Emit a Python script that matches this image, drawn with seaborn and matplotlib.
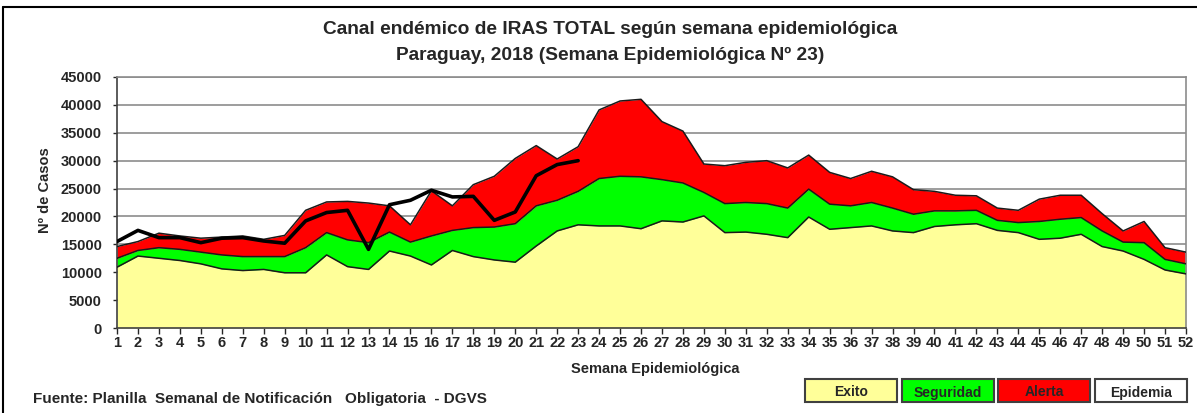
import numpy as np
import pandas as pd
import seaborn as sns
import matplotlib
matplotlib.use('Agg')
import matplotlib.pyplot as plt
from matplotlib.patches import Rectangle
from matplotlib.lines import Line2D

# semanas epidemiologicas
semanas = list(range(1, 53))

# limites del canal endemico (valores acumulados)
exito = [10900, 12900, 12500, 12100, 11500, 10600, 10300, 10500, 9900, 9900,
         13100, 11000, 10500, 13800, 12900, 11300, 13900, 12800, 12200, 11800,
         14700, 17400, 18500, 18300, 18300, 17800, 19200, 19000, 20100, 17100,
         17200, 16800, 16200, 19900, 17700, 18000, 18300, 17400, 17100, 18200,
         18500, 18700, 17500, 17100, 15900, 16100, 16800, 14600, 13800, 12300,
         10400, 9700]
seguridad = [12500, 13900, 14400, 14100, 13600, 13100, 12800, 12800, 12800, 14400,
             17100, 15800, 15300, 17200, 15400, 16500, 17500, 18000, 18100, 18700,
             21900, 22900, 24500, 26800, 27200, 27100, 26600, 26000, 24300, 22300,
             22500, 22300, 21500, 24900, 22200, 21900, 22500, 21500, 20400, 21000,
             21000, 21100, 19300, 18900, 19100, 19500, 19800, 17400, 15400, 15300,
             12300, 11500]
alerta = [14600, 15500, 17000, 16500, 16100, 16300, 16500, 15900, 16600, 21100,
          22600, 22700, 22400, 21900, 18500, 24600, 21900, 25700, 27200, 30400,
          32700, 30300, 32500, 39100, 40700, 41000, 37000, 35300, 29400, 29100,
          29700, 30000, 28700, 31000, 27900, 26800, 28100, 27100, 24800, 24500,
          23800, 23700, 21500, 21100, 23100, 23800, 23800, 20500, 17400, 19100,
          14400, 13600]

# casos 2018 hasta la semana 23
casos_2018 = [15500, 17500, 16200, 16200, 15300, 16100, 16200, 15600, 15200, 19200,
              20700, 21100, 14100, 22100, 22900, 24700, 23500, 23600, 19300, 20800,
              27300, 29300, 30000]

df = pd.DataFrame({'semana': semanas, 'exito': exito,
                   'seguridad': seguridad, 'alerta': alerta})
df_2018 = pd.DataFrame({'semana': semanas[:len(casos_2018)], 'casos': casos_2018})

sns.set_style('white')
plt.rcParams['font.family'] = ['Liberation Sans', 'DejaVu Sans']
plt.rcParams['font.weight'] = 'bold'

W, H = 1197, 413
fig = plt.figure(figsize=(W / 100, H / 100), dpi=100)
ax = fig.add_axes([117 / W, 1 - 328 / H, (1186 - 117) / W, (328 - 77) / H])

amarillo = '#FFFF99'
verde = '#00FF00'
rojo = '#FF0000'

ax.fill_between(df['semana'], 0, df['exito'], color=amarillo, zorder=2, lw=0)
ax.fill_between(df['semana'], df['exito'], df['seguridad'], color=verde, zorder=2, lw=0)
ax.fill_between(df['semana'], df['seguridad'], df['alerta'], color=rojo, zorder=2, lw=0)

for col in ['exito', 'seguridad', 'alerta']:
    sns.lineplot(data=df, x='semana', y=col, color='#1a1a1a', lw=1.1, ax=ax, zorder=3)

sns.lineplot(data=df_2018, x='semana', y='casos', color='black', lw=2.6, ax=ax, zorder=4)

ax.set_xlim(1, 52)
ax.set_ylim(0, 45000)
ax.set_xticks(semanas)
ax.set_yticks(range(0, 45001, 5000))
ax.yaxis.grid(True, color='#8c8c8c', lw=1.2)
ax.set_axisbelow(True)
ax.tick_params(axis='x', length=4, width=1, pad=2, labelsize=10.5, direction='out', bottom=True)
ax.tick_params(axis='y', length=3, width=1, pad=8, labelsize=10.5, direction='out', left=True)
for lab in ax.get_xticklabels() + ax.get_yticklabels():
    lab.set_fontweight('bold')
ax.set_xlabel('')
ax.set_ylabel('')
for s in ['top', 'right']:
    ax.spines[s].set_color('#8c8c8c')
for s in ['left', 'bottom']:
    ax.spines[s].set_color('#404040')
for s in ax.spines.values():
    s.set_linewidth(1.2)

# titulos
fig.text(610 / W, 1 - 30 / H, 'Canal endémico de IRAS TOTAL según semana epidemiológica',
         ha='center', va='center', fontsize=13.8, fontweight='bold')
fig.text(610 / W, 1 - 55 / H, 'Paraguay, 2018 (Semana Epidemiológica Nº 23)',
         ha='center', va='center', fontsize=13.8, fontweight='bold')
fig.text(45 / W, 1 - 190 / H, 'Nº de Casos', rotation=90, ha='center', va='center',
         fontsize=10.5, fontweight='bold')
fig.text(655 / W, 1 - 369 / H, 'Semana Epidemiológica', ha='center', va='center',
         fontsize=10.5, fontweight='bold')
fig.text(33 / W, 1 - 397 / H,
         'Fuente: Planilla  Semanal de Notificación   Obligatoria  - DGVS',
         ha='left', va='center_baseline', fontsize=11, fontweight='bold')

# leyenda en cajas
leyenda = [('Exito', amarillo), ('Seguridad', verde), ('Alerta', rojo), ('Epidemia', 'white')]
x0 = 805
for nombre, color in leyenda:
    fig.patches.append(Rectangle((x0 / W, 1 - 402 / H), 92 / W, 23 / H,
                                 transform=fig.transFigure, facecolor=color,
                                 edgecolor='#404040', lw=1.5))
    fig.text((x0 + 46) / W, 1 - 391 / H, nombre, ha='center', va='center_baseline',
             fontsize=10, fontweight='bold')
    x0 += 96.7

# marco exterior
fig.lines.append(Line2D([3 / W, 3 / W], [0, 1 - 7 / H], transform=fig.transFigure,
                        color='black', lw=1.5))
fig.lines.append(Line2D([3 / W, 1], [1 - 7 / H, 1 - 7 / H], transform=fig.transFigure,
                        color='black', lw=1.5))

fig.savefig('out.png', dpi=100)
